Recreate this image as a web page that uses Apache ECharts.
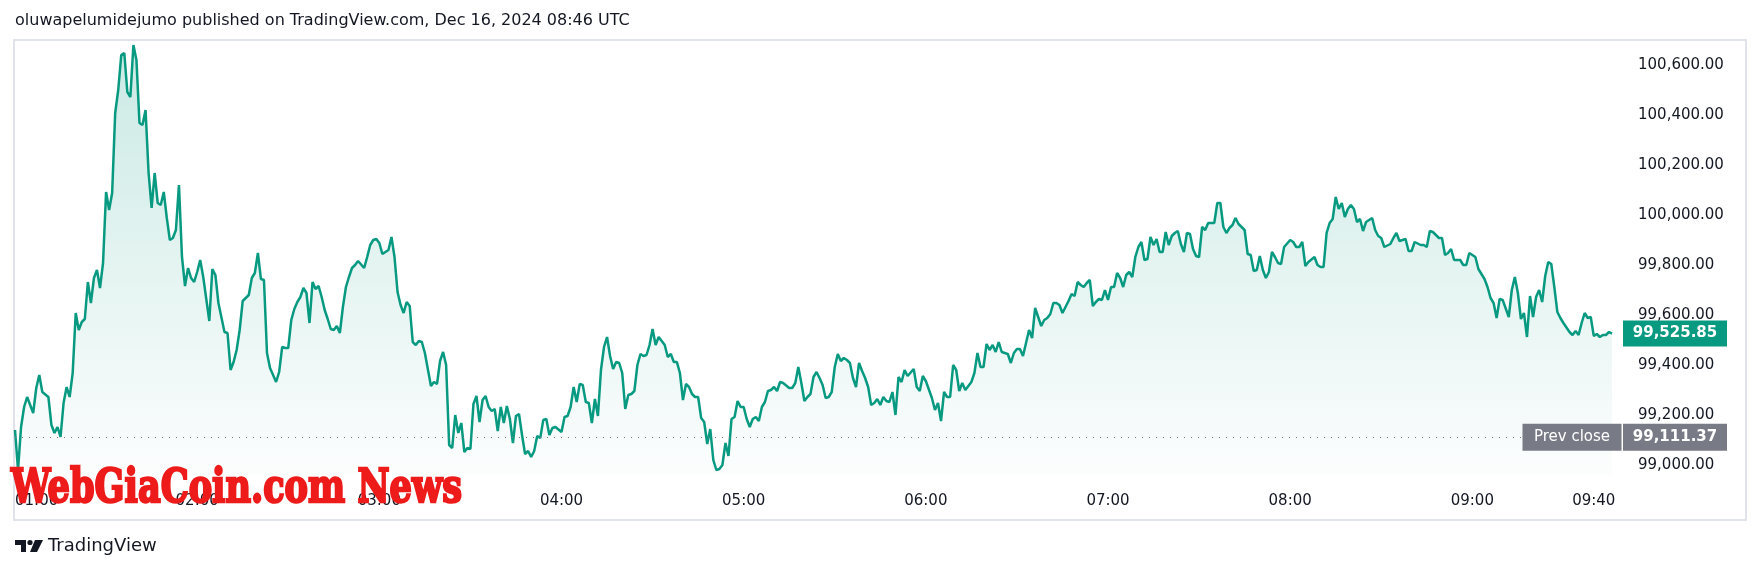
<!DOCTYPE html>
<html>
<head>
<meta charset="utf-8">
<script src="https://cdn.jsdelivr.net/npm/echarts@6/dist/echarts.min.js"></script>
<style>
html,body{margin:0;padding:0;background:#ffffff;}
#chart{width:1761px;height:574px;}
</style>
</head>
<body>
<div id="chart"></div>
<script>
// ---- DATA: BTC price, Dec 16 2024, [minute within hour, price] per hour ----
const h01 = [[0,99140],[1,98980],[2,99152],[3,99232],[4,99272],[6,99208],[7,99308],[8,99360],[9,99292],[11,99272],[12,99160],[13,99128],[14,99152],[15,99112],[16,99248],[17,99312],[18,99272],[19,99368],[20,99608],[21,99540],[22,99572],[23,99584],[24,99732],[25,99648],[26,99748],[27,99780],[28,99708],[29,99808],[30,100092],[31,100020],[32,100088],[33,100408],[34,100500],[35,100640],[36,100648],[37,100492],[38,100472],[39,100680],[40,100620],[41,100368],[42,100360],[43,100420],[44,100168],[45,100028],[46,100168],[47,100048],[48,100040],[49,100092],[50,99988],[51,99900],[52,99908],[53,99940],[54,100120],[55,99832],[56,99716],[57,99788],[58,99748],[59,99732]];
const h02 = [[0,99772],[1,99820],[2,99752],[4,99576],[5,99784],[6,99760],[7,99648],[9,99532],[10,99528],[11,99380],[12,99412],[13,99460],[14,99540],[15,99656],[16,99668],[17,99680],[18,99748],[19,99768],[20,99848],[21,99744],[22,99740],[23,99448],[24,99388],[26,99332],[27,99372],[28,99472],[29,99468],[30,99468],[31,99580],[32,99624],[33,99652],[34,99672],[35,99708],[36,99688],[37,99568],[38,99732],[39,99704],[40,99716],[41,99672],[42,99620],[43,99584],[44,99544],[45,99540],[46,99556],[47,99528],[48,99632],[49,99712],[50,99752],[51,99788],[52,99800],[53,99816],[55,99788],[56,99832],[57,99880],[58,99900],[59,99904]];
const h03 = [[0,99888],[1,99844],[3,99860],[4,99912],[5,99832],[6,99692],[7,99640],[8,99608],[9,99652],[10,99636],[11,99492],[12,99480],[13,99496],[14,99492],[15,99448],[17,99316],[18,99332],[19,99324],[20,99416],[21,99452],[22,99400],[23,99080],[24,99068],[25,99200],[26,99128],[27,99168],[28,99052],[29,99068],[30,99064],[31,99244],[32,99276],[33,99172],[34,99260],[35,99276],[36,99232],[37,99216],[38,99224],[39,99136],[40,99232],[41,99168],[42,99236],[43,99184],[44,99088],[45,99196],[46,99204],[47,99120],[48,99044],[49,99056],[50,99032],[51,99056],[52,99116],[53,99108],[54,99180],[55,99184],[56,99120],[57,99148],[58,99152]];
const h04 = [[0,99132],[1,99192],[2,99196],[3,99232],[4,99312],[5,99252],[6,99324],[7,99320],[8,99252],[9,99248],[10,99168],[11,99264],[12,99196],[13,99380],[14,99472],[15,99512],[16,99436],[17,99384],[18,99412],[19,99408],[20,99368],[21,99224],[22,99280],[23,99284],[24,99296],[25,99400],[26,99444],[27,99436],[28,99440],[29,99480],[30,99544],[31,99480],[32,99512],[33,99496],[34,99480],[35,99432],[36,99444],[37,99412],[38,99412],[39,99368],[40,99260],[41,99324],[42,99312],[43,99284],[44,99272],[45,99272],[46,99188],[47,99172],[48,99084],[49,99144],[50,99020],[51,98980],[52,98984],[53,99000],[54,99088],[55,99036],[56,99184],[57,99192],[58,99256],[59,99232]];
const h05 = [[0,99232],[1,99184],[2,99152],[3,99184],[4,99192],[5,99176],[6,99232],[7,99252],[8,99296],[9,99300],[10,99312],[11,99296],[12,99332],[13,99328],[15,99308],[16,99308],[17,99328],[18,99392],[19,99328],[20,99256],[21,99272],[22,99284],[23,99352],[24,99372],[25,99348],[26,99320],[27,99268],[28,99272],[29,99292],[30,99392],[31,99444],[32,99416],[33,99428],[34,99420],[35,99408],[36,99348],[37,99312],[38,99408],[39,99376],[40,99348],[41,99312],[42,99240],[43,99248],[44,99264],[45,99240],[46,99272],[47,99256],[48,99252],[49,99292],[50,99200],[51,99352],[52,99332],[53,99380],[54,99356],[56,99384],[57,99312],[58,99296],[59,99356]];
const h06 = [[0,99336],[2,99268],[3,99220],[4,99248],[5,99176],[6,99292],[7,99272],[8,99272],[9,99400],[10,99380],[11,99296],[12,99328],[13,99300],[15,99332],[16,99368],[17,99448],[18,99392],[19,99392],[20,99484],[21,99460],[22,99480],[23,99452],[24,99492],[25,99452],[26,99448],[27,99444],[28,99408],[29,99448],[30,99464],[31,99464],[32,99436],[33,99488],[34,99540],[35,99508],[36,99628],[37,99592],[38,99556],[39,99580],[40,99588],[41,99604],[42,99648],[43,99648],[44,99640],[45,99608],[46,99632],[47,99656],[48,99684],[49,99676],[50,99732],[51,99720],[52,99712],[53,99728],[54,99740],[55,99636],[56,99652],[57,99664],[58,99660],[59,99700]];
const h07 = [[0,99660],[1,99712],[2,99712],[3,99768],[4,99748],[5,99712],[6,99760],[7,99772],[8,99752],[9,99832],[10,99872],[11,99892],[12,99820],[13,99824],[14,99912],[15,99880],[16,99904],[17,99852],[18,99852],[19,99932],[20,99880],[21,99916],[22,99928],[23,99936],[24,99884],[25,99852],[26,99928],[27,99924],[28,99864],[29,99836],[30,99832],[31,99952],[32,99940],[33,99968],[35,99968],[36,100048],[37,100048],[38,99952],[39,99928],[40,99948],[41,99960],[42,99988],[43,99964],[44,99952],[45,99940],[46,99844],[47,99840],[48,99776],[49,99780],[50,99836],[51,99780],[52,99748],[53,99772],[54,99852],[55,99832],[56,99808],[57,99804],[58,99872]];
const h08 = [[0,99900],[1,99892],[2,99872],[3,99872],[4,99892],[5,99796],[6,99812],[8,99832],[9,99800],[10,99792],[11,99792],[12,99928],[13,99968],[14,99984],[15,100072],[16,100024],[17,100048],[18,99992],[19,100024],[20,100040],[21,100024],[22,99972],[23,99984],[24,99936],[25,99972],[27,99988],[28,99940],[29,99916],[30,99908],[31,99872],[33,99884],[34,99908],[35,99928],[36,99896],[38,99904],[39,99856],[40,99856],[41,99892],[43,99880],[44,99880],[45,99872],[46,99936],[47,99932],[49,99908],[50,99908],[51,99840],[52,99848],[53,99864],[54,99820],[56,99820],[57,99800],[58,99800],[59,99848]];
const h09 = [[1,99832],[2,99784],[3,99764],[4,99744],[5,99712],[6,99668],[7,99648],[8,99588],[9,99664],[10,99660],[12,99592],[13,99700],[14,99752],[15,99688],[16,99584],[17,99608],[18,99512],[19,99676],[20,99592],[21,99672],[22,99700],[23,99652],[24,99756],[25,99812],[26,99804],[27,99712],[28,99612],[29,99588],[30,99568],[32,99532],[33,99520],[34,99536],[35,99520],[36,99568],[37,99608],[38,99588],[39,99592],[40,99516],[41,99524],[42,99512],[43,99520],[44,99520],[45,99532],[46,99525.85]];
const hourBlocks = [[1,h01],[2,h02],[3,h03],[4,h04],[5,h05],[6,h06],[7,h07],[8,h08],[9,h09]];

const xTickMinutes = [60,120,180,240,300,360,420,480,540,580];
const xTickLabels  = ['01:00','02:00','03:00','04:00','05:00','06:00','07:00','08:00','09:00','09:40'];
const yTicks = [99000,99200,99400,99600,99800,100000,100200,100400,100600];
const lastPrice = 99525.85;
const prevClose = 99111.37;
const titleText = 'oluwapelumidejumo published on TradingView.com, Dec 16, 2024 08:46 UTC';
const watermarkText = 'WebGiaCoin.com News';

// ---- build ----
const seriesData = [];
hourBlocks.forEach(([h, arr]) => arr.forEach(([m, p]) => seriesData.push([h * 60 + m, p])));
const lastMinute = seriesData[seriesData.length - 1][0];

const fmtPrice = v => Number(v).toLocaleString('en-US', {minimumFractionDigits: 2, maximumFractionDigits: 2});
const FONT = '"DejaVu Sans", sans-serif';
const INK = '#131722';
const GREEN = '#089981';
const GREY = '#787b86';

// measure watermark to condense it like the reference
const mc = document.createElement('canvas').getContext('2d');
mc.font = 'bold 46px "DejaVu Serif"';
const wmWidth = mc.measureText(watermarkText).width;
const wmScale = 451 / wmWidth;

const chart = echarts.init(document.getElementById('chart'), null, {renderer: 'canvas'});
chart.setOption({
  animation: false,
  backgroundColor: '#ffffff',
  grid: {left: 15, right: 149, top: 40, bottom: 99, outerBoundsMode: 'none', containLabel: false},
  xAxis: {
    type: 'value', min: 60, max: lastMinute,
    axisLine: {show: false}, axisTick: {show: false}, splitLine: {show: false},
    axisLabel: {
      customValues: xTickMinutes,
      formatter: v => xTickLabels[xTickMinutes.indexOf(v)] || '',
      margin: 19, color: INK, fontSize: 15, fontFamily: FONT,
      alignMinLabel: 'left'
    }
  },
  yAxis: {
    type: 'value', position: 'right', min: 98960, max: 100700, scale: true,
    axisLine: {show: false}, axisTick: {show: false}, splitLine: {show: false},
    axisLabel: {
      customValues: yTicks,
      formatter: v => fmtPrice(v),
      margin: 26, color: INK, fontSize: 15, fontFamily: FONT
    }
  },
  series: [{
    type: 'line',
    data: seriesData,
    showSymbol: false,
    clip: false,
    lineStyle: {color: GREEN, width: 2.5},
    itemStyle: {color: GREEN},
    areaStyle: {
      origin: 'start',
      color: new echarts.graphic.LinearGradient(0, 0, 0, 1, [
        {offset: 0, color: 'rgba(8,153,129,0.30)'},
        {offset: 1, color: 'rgba(8,153,129,0.02)'}
      ])
    },
    markLine: {
      silent: true, symbol: 'none',
      lineStyle: {color: GREY, width: 1, type: [1, 6]},
      label: {show: false},
      data: [{yAxis: prevClose}]
    },
    markPoint: {
      silent: true,
      data: [
        {coord: [lastMinute, prevClose], symbol: 'rect', symbolSize: [99, 27], symbolOffset: [-40, 0],
         itemStyle: {color: GREY},
         label: {show: true, position: 'inside', formatter: 'Prev close', color: '#ffffff', fontSize: 15, fontFamily: FONT}},
        {coord: [lastMinute, prevClose], symbol: 'rect', symbolSize: [104, 27], symbolOffset: [63, 0],
         itemStyle: {color: GREY},
         label: {show: true, position: 'inside', formatter: fmtPrice(prevClose), color: '#ffffff', fontSize: 15, fontWeight: 'bold', fontFamily: FONT}},
        {coord: [lastMinute, lastPrice], symbol: 'rect', symbolSize: [104, 26], symbolOffset: [63, 0],
         itemStyle: {color: GREEN},
         label: {show: true, position: 'inside', formatter: fmtPrice(lastPrice), color: '#ffffff', fontSize: 15, fontWeight: 'bold', fontFamily: FONT}}
      ]
    }
  }],
  graphic: [
    {type: 'rect', silent: true, z: -1, shape: {x: 14, y: 40, width: 1732, height: 480},
     style: {fill: 'none', stroke: '#e0e3eb', lineWidth: 2}},
    {type: 'text', silent: true, x: 15, y: 21,
     style: {text: titleText, fill: INK, font: '16px ' + FONT, verticalAlign: 'middle'}},
    {type: 'text', silent: true, z: 100, x: 11, y: 490, scaleX: wmScale,
     style: {text: watermarkText, fill: '#ee1b1b', stroke: '#ee1b1b', lineWidth: 2.5, font: 'bold 46px "DejaVu Serif"', verticalAlign: 'middle'}},
    // TradingView logo
    {type: 'polygon', silent: true, shape: {points: [[15,540],[26,540],[26,552],[21,552],[21,545],[15,545]]}, style: {fill: INK}},
    {type: 'circle', silent: true, shape: {cx: 30, cy: 542.5, r: 2.6}, style: {fill: INK}},
    {type: 'polygon', silent: true, shape: {points: [[35,540],[43,540],[37,552],[30,552]]}, style: {fill: INK}},
    {type: 'text', silent: true, x: 48, y: 546,
     style: {text: 'TradingView', fill: INK, font: '18px ' + FONT, verticalAlign: 'middle'}}
  ]
});
</script>
</body>
</html>
